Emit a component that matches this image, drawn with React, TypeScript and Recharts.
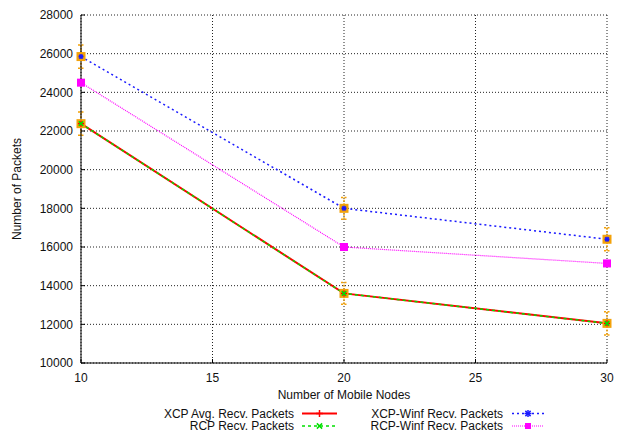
import React from 'react';
import { ComposedChart, Line, XAxis, YAxis, CartesianGrid, ErrorBar } from 'recharts';

// Number of mobile nodes in each simulation run
const nodes = [10, 20, 30];
// Received packets per protocol
const xcpAvgPackets = [22380, 13600, 12050];
const rcpPackets = [22380, 13600, 12050];
const xcpWinfPackets = [25850, 18000, 16400];
const rcpWinfPackets = [24500, 16000, 15150];
// Standard deviation of the XCP runs
const xcpWinfDev = [600, 560, 600];
const xcpAvgDev = [600, 560, 600];

const xTicks = [10, 15, 20, 25, 30];
const yTicks = [10000, 12000, 14000, 16000, 18000, 20000, 22000, 24000, 26000, 28000];

const legendLeft = ['XCP Avg. Recv. Packets', 'RCP Recv. Packets'];
const legendRight = ['XCP-Winf Recv. Packets', 'RCP-Winf Recv. Packets'];

const data = nodes.map((n, i) => ({
  nodes: n,
  xcpAvg: xcpAvgPackets[i],
  rcp: rcpPackets[i],
  xcpWinf: xcpWinfPackets[i],
  rcpWinf: rcpWinfPackets[i],
  xcpWinfDev: xcpWinfDev[i],
  xcpAvgDev: xcpAvgDev[i],
}));

const FONT = '"Liberation Sans", Arial, Helvetica, sans-serif';
const ORANGE = '#f3a20a';
const RED = '#ff0000';
const GREEN = '#00e000';
const BLUE = '#1a1aff';
const MAGENTA = '#ff00ff';

type Mark = 'plus' | 'cross' | 'star' | 'square';

function Marker({ kind, x, y, color, size }: { kind: Mark; x: number; y: number; color: string; size: number }) {
  const h = size / 2;
  if (kind === 'square') {
    return <rect x={x - h} y={y - h} width={size} height={size} fill={color} />;
  }
  const plus = (
    <>
      <line x1={x - h} y1={y} x2={x + h} y2={y} stroke={color} strokeWidth={1.5} />
      <line x1={x} y1={y - h} x2={x} y2={y + h} stroke={color} strokeWidth={1.5} />
    </>
  );
  const d = h * 0.75;
  const cross = (
    <>
      <line x1={x - d} y1={y - d} x2={x + d} y2={y + d} stroke={color} strokeWidth={1.5} />
      <line x1={x - d} y1={y + d} x2={x + d} y2={y - d} stroke={color} strokeWidth={1.5} />
    </>
  );
  return (
    <g>
      {(kind === 'plus' || kind === 'star') && plus}
      {(kind === 'cross' || kind === 'star') && cross}
    </g>
  );
}

const dotOf = (name: string, kind: Mark, color: string, size: number) => (p: any) => (
  <g key={`${name}-${p.index}`}>
    {p.cx != null && p.cy != null && <Marker kind={kind} x={p.cx} y={p.cy} color={color} size={size} />}
  </g>
);

const YLabel = (props: any) => {
  const vb = props.viewBox || {};
  const cx = vb.x + 17;
  const cy = vb.y + vb.height / 2;
  return (
    <text
      x={cx}
      y={cy}
      transform={`rotate(-90 ${cx} ${cy})`}
      textAnchor="middle"
      dominantBaseline="central"
      fontFamily={FONT}
      fontSize={12}
      fill="#111"
    >
      Number of Packets
    </text>
  );
};

const legendRows: { label: string; color: string; dash?: string; width: number; kind: Mark; msize: number }[][] = [
  [
    { label: legendLeft[0], color: RED, width: 2, kind: 'plus', msize: 7 },
    { label: legendLeft[1], color: GREEN, dash: '3 3', width: 1.5, kind: 'cross', msize: 7 },
  ],
  [
    { label: legendRight[0], color: BLUE, dash: '2 3', width: 1.5, kind: 'star', msize: 7 },
    { label: legendRight[1], color: MAGENTA, dash: '1 1', width: 1.2, kind: 'square', msize: 6 },
  ],
];

function LegendBox() {
  const cols = [
    { textRight: 294, x1: 302, x2: 337 },
    { textRight: 503, x1: 512, x2: 544 },
  ];
  const rowsY = [413.5, 426];
  return (
    <svg width={617} height={434} style={{ position: 'absolute', left: 0, top: 0, pointerEvents: 'none' }}>
      {legendRows.map((col, ci) =>
        col.map((item, ri) => {
          const c = cols[ci];
          const y = rowsY[ri];
          const mx = (c.x1 + c.x2) / 2;
          return (
            <g key={`${ci}-${ri}`}>
              <text x={c.textRight} y={y + 4.3} textAnchor="end" fontFamily={FONT} fontSize={12} fill="#111">
                {item.label}
              </text>
              <line x1={c.x1} y1={y} x2={c.x2} y2={y} stroke={item.color} strokeWidth={item.width} strokeDasharray={item.dash} />
              <Marker kind={item.kind} x={mx} y={y} color={item.color} size={item.msize} />
            </g>
          );
        })
      )}
    </svg>
  );
}

export default function App() {
  return (
    <div style={{ position: 'absolute', left: 0, top: 0, width: 617, height: 434, background: '#fff' }}>
      <ComposedChart
        width={617}
        height={434}
        data={data}
        margin={{ top: 15, right: 10, bottom: 31, left: 0 }}
        style={{ fontFamily: FONT }}
      >
        <CartesianGrid stroke="#222" strokeDasharray="1 2" strokeWidth={1} />
        <XAxis
          dataKey="nodes"
          type="number"
          domain={[10, 30]}
          ticks={xTicks}
          height={40}
          axisLine={{ stroke: '#000', strokeWidth: 1 }}
          tickLine={{ stroke: '#000' }}
          tickSize={-4}
          tickMargin={14}
          tick={{ fill: '#111', fontSize: 12, fontFamily: FONT }}
          label={{ value: 'Number of Mobile Nodes', position: 'insideBottom', offset: 4, fill: '#111', fontSize: 12, fontFamily: FONT }}
        />
        <XAxis
          xAxisId="top"
          orientation="top"
          dataKey="nodes"
          type="number"
          domain={[10, 30]}
          ticks={xTicks}
          height={0}
          axisLine={{ stroke: '#000', strokeWidth: 1 }}
          tickLine={{ stroke: '#000' }}
          tickSize={-4}
          tick={false}
        />
        <YAxis
          type="number"
          domain={[10000, 28000]}
          ticks={yTicks}
          width={81}
          axisLine={{ stroke: '#000', strokeWidth: 1 }}
          tickLine={{ stroke: '#000' }}
          tickSize={-4}
          tickMargin={12}
          tick={{ fill: '#111', fontSize: 12, fontFamily: FONT }}
          label={<YLabel />}
        />
        <YAxis
          yAxisId="right"
          orientation="right"
          type="number"
          domain={[10000, 28000]}
          ticks={yTicks}
          width={0}
          axisLine={{ stroke: '#000', strokeWidth: 1 }}
          tickLine={{ stroke: '#000' }}
          tickSize={-4}
          tick={false}
        />

        {/* deviation of the XCP runs */}
        <Line dataKey="xcpWinf" stroke="none" isAnimationActive={false} dot={dotOf('ew', 'square', ORANGE, 9)} activeDot={false} legendType="none">
          <ErrorBar dataKey="xcpWinfDev" direction="y" width={3} stroke={ORANGE} strokeWidth={1.5} strokeDasharray="2 1.5" />
        </Line>
        <Line dataKey="xcpAvg" stroke="none" isAnimationActive={false} dot={dotOf('ea', 'square', ORANGE, 9)} activeDot={false} legendType="none">
          <ErrorBar dataKey="xcpAvgDev" direction="y" width={3} stroke={ORANGE} strokeWidth={1.5} strokeDasharray="2 1.5" />
        </Line>

        <Line dataKey="xcpAvg" stroke={RED} strokeWidth={2} isAnimationActive={false} dot={dotOf('xa', 'plus', RED, 6)} activeDot={false} />
        <Line dataKey="rcp" stroke={GREEN} strokeWidth={1.5} strokeDasharray="3 3" isAnimationActive={false} dot={dotOf('rc', 'cross', GREEN, 6)} activeDot={false} />
        <Line dataKey="xcpWinf" stroke={BLUE} strokeWidth={1.5} strokeDasharray="2 3" isAnimationActive={false} dot={dotOf('xw', 'star', BLUE, 5)} activeDot={false} />
        <Line dataKey="rcpWinf" stroke={MAGENTA} strokeWidth={1.2} strokeDasharray="1 1" isAnimationActive={false} dot={dotOf('rw', 'square', MAGENTA, 8)} activeDot={false} />
      </ComposedChart>
      <LegendBox />
    </div>
  );
}
